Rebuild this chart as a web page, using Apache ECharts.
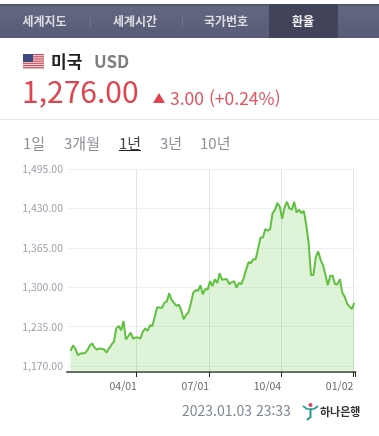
<!DOCTYPE html>
<html lang="ko">
<head>
<meta charset="utf-8">
<style>
html, body { margin: 0; padding: 0; background: #fff; }
#main { width: 379px; height: 436px; }
</style>
<script src="https://cdn.jsdelivr.net/npm/echarts@6/dist/echarts.min.js"></script>
</head>
<body>
<div id="main"></div>
<script>
// values, about one point every two trading days
const rates = [null,
  1195, 1204, 1198, 1188, 1190, 1191, 1191, 1196, 1204, 1207,
  1200, 1197, 1199, 1198, 1197, 1192, 1199, 1205, 1210, 1232,
  1236, 1229, 1244, 1214, 1219, 1225, 1215, 1217, 1217, 1215,
  1226, 1232, 1228, 1237, 1236, 1251, 1267, 1266, 1266, 1274,
  1276, 1290, 1279, 1274, 1269, 1271, 1262, 1247, 1254, 1258,
  1273, 1291, 1295, 1294, 1303, 1288, 1297, 1296, 1310, 1302,
  1313, 1307, 1323, 1312, 1313, 1313, 1305, 1308, 1310, 1299,
  1307, 1305, 1315, 1329, 1341, 1340, 1346, 1346, 1364, 1382,
  1382, 1396, 1393, 1396, 1422, 1427, 1439, 1433, 1413, 1432,
  1441, 1430, 1428, 1441, 1423, 1428, 1422, 1426, 1403, 1373,
  1320, 1320, 1350, 1359, 1345, 1336, 1320, 1303, 1319, 1319,
  1305, 1305, 1313, 1291, 1284, 1273, 1268, 1264, 1274
];
const categories = rates.map((v, i) => String(i));
const xTickIndex = [29, 59, 89, 119];
const xTickLabels = ['04/01', '07/01', '10/04', '01/02'];
const yTicks = [1170, 1235, 1300, 1365, 1430, 1495];

const tabs = ['세계지도', '세계시간', '국가번호', '환율'];
const tabCenters = [44.5, 135, 226, 303];
const periods = ['1일', '3개월', '1년', '3년', '10년'];
const periodLefts = [23, 64, 119, 160, 200];

const FONT = '"Noto Sans CJK KR", "Noto Sans", sans-serif';
const isXTick = (i) => xTickIndex.includes(i);
const money = (v) => v.toLocaleString('en-US', { minimumFractionDigits: 2, maximumFractionDigits: 2 });

const text = (x, y, str, size, color, weight, align) => ({
    type: 'text', x, y,
    style: {
        text: str, fill: color, align: align || 'left', verticalAlign: 'middle',
        font: `${weight || 'normal'} ${size}px ${FONT}`
    }
});
const box = (x, y, width, height, fill) => ({ type: 'rect', shape: { x, y, width, height }, style: { fill } });

// flag stripes
const flag = [];
for (let i = 0; i < 7; i++) flag.push(box(23, 54 + i * 2.2, 21, 1.1, '#c9505f'));
flag.push(box(23, 54, 21, 15, 'rgba(200,90,105,0.28)'));
flag.push(box(23, 54, 10, 8, '#3f4a80'));

const graphics = [
    {
        type: 'rect', shape: { x: 0, y: 4, width: 379, height: 34 },
        style: {
            fill: new echarts.graphic.LinearGradient(0, 0, 0, 1, [
                { offset: 0, color: '#4f5369' }, { offset: 0.1, color: '#62667f' }, { offset: 1, color: '#575b75' }
            ])
        }
    },
    box(269, 4, 69, 34, '#404359'),
    box(90, 15, 1, 13, '#6f7389'),
    box(182, 15, 1, 13, '#6f7389'),
    ...tabs.map((t, i) => text(tabCenters[i], 21, t, 12, i === 3 ? '#f2f2f2' : '#dcdde2', 'bold', 'center')),
    ...flag,
    text(51, 62, '미국', 17, '#222', 'bold'),
    text(94, 62, 'USD', 17, '#7f7f7f', 'bold'),
    text(22, 92, '1,276.00', 30, '#e0454f'),
    { type: 'polygon', shape: { points: [[159, 93], [165, 103], [153, 103]] }, style: { fill: '#e0454f' } },
    text(170, 98, '3.00 (+0.24%)', 17.5, '#e0555f'),
    box(0, 119, 379, 1, '#e6e6e6'),
    ...periods.map((p, i) => text(periodLefts[i], 143, p, 15, i === 2 ? '#444' : '#8c9099')),
    box(119, 150, 22, 1, '#222'),
    text(182, 411, '2023.01.03 23:33', 14, '#7f8896'),
    // bank logo
    { type: 'circle', shape: { cx: 310.5, cy: 405, r: 2 }, style: { fill: '#e0455f' } },
    { type: 'polyline', shape: { points: [[303, 406], [307, 409], [314, 409], [318, 406]] }, style: { stroke: '#1f9a8c', lineWidth: 1.6, fill: 'none' } },
    { type: 'polyline', shape: { points: [[310.5, 409], [310.5, 417], [307, 420]] }, style: { stroke: '#1f9a8c', lineWidth: 2, fill: 'none' } },
    text(320, 412, '하나은행', 11, '#333', 'bold')
];

const myChart = echarts.init(document.getElementById('main'));

const option = {
    animation: false,
    backgroundColor: '#fff',
    textStyle: { fontFamily: FONT },
    graphic: graphics,
    grid: { left: 67, right: 23.5, top: 169, bottom: 64 },
    xAxis: {
        type: 'category',
        data: categories,
        boundaryGap: true,
        axisLine: { lineStyle: { color: '#666', width: 2 } },
        axisTick: { show: true, alignWithLabel: false, interval: (i) => isXTick(i), length: 5, lineStyle: { color: '#222' } },
        axisLabel: {
            interval: (i) => isXTick(i),
            formatter: (v, i) => xTickLabels[xTickIndex.indexOf(i)] || '',
            align: 'right', color: '#666', fontSize: 10.5, margin: 9, hideOverlap: false, padding: [0, 1, 0, 0]
        },
        splitLine: {
            show: true, showMaxLine: false,
            interval: (i) => isXTick(i),
            lineStyle: { color: '#e2e4ea', width: 1 }
        }
    },
    yAxis: {
        type: 'value',
        min: 1160,
        max: 1495,
        axisLine: { show: false },
        axisTick: { show: false, customValues: yTicks },
        axisLabel: { customValues: yTicks, formatter: (v) => money(v), color: '#9a9fae', fontSize: 10.5, margin: 4 },
        splitLine: { lineStyle: { color: '#eef0f5', width: 1 } }
    },
    series: [{
        type: 'line',
        data: rates,
        symbol: 'none',
        smooth: false,
        lineStyle: { color: '#5fc13f', width: 2 },
        areaStyle: { color: 'rgba(95, 193, 63, 0.2)', opacity: 1 }
    }]
};

myChart.setOption(option);
window.addEventListener('resize', () => myChart.resize());
</script>
</body>
</html>
